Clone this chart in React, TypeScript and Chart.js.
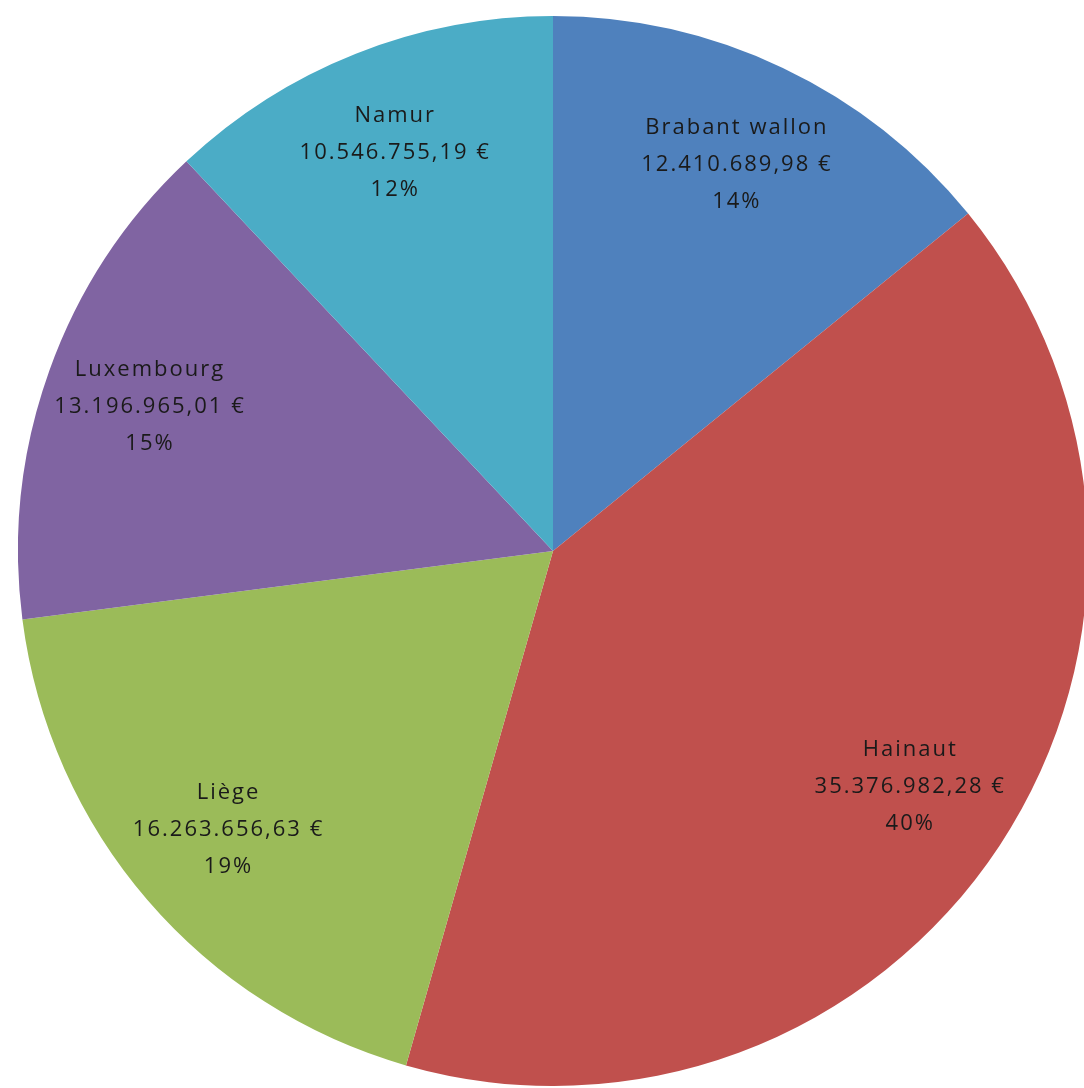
import React, { useEffect, useRef } from "react";
import { Chart, registerables } from "chart.js";

Chart.register(...registerables);

const categories = ["Brabant wallon", "Hainaut", "Liège", "Luxembourg", "Namur"];
const amounts = [12410689.98, 35376982.28, 16263656.63, 13196965.01, 10546755.19];
const colors = ["#4f81bd", "#c0504d", "#9bbb59", "#8064a2", "#4bacc6"];

function formatEuro(v: number): string {
  const fixed = v.toFixed(2);
  const [intPart, dec] = fixed.split(".");
  const grouped = intPart.replace(/\B(?=(\d{3})+(?!\d))/g, ".");
  return grouped + "," + dec + " €";
}

const labelPlugin = {
  id: "sliceLabels",
  afterDatasetsDraw(chart: any) {
    const ctx = chart.ctx;
    const meta = chart.getDatasetMeta(0);
    const data = chart.data.datasets[0].data as number[];
    const total = data.reduce((a, b) => a + b, 0);
    ctx.save();
    ctx.font = "22px 'Open Sans', sans-serif";
    try {
      (ctx as any).letterSpacing = "2px";
    } catch (e) {}
    ctx.fillStyle = "#1a1a1a";
    ctx.textAlign = "center";
    ctx.textBaseline = "middle";
    meta.data.forEach((arc: any, i: number) => {
      const { x, y, startAngle, endAngle, outerRadius } = arc.getProps(
        ["x", "y", "startAngle", "endAngle", "outerRadius"],
        true
      );
      const mid = (startAngle + endAngle) / 2;
      const r = outerRadius * 0.8;
      const cx = x + Math.cos(mid) * r;
      const cy = y + Math.sin(mid) * r;
      const lines = [
        chart.data.labels[i],
        formatEuro(data[i]),
        Math.round((data[i] / total) * 100) + "%",
      ];
      const lh = 37;
      lines.forEach((t: string, k: number) => {
        ctx.fillText(t, cx, cy + (k - 1) * lh);
      });
    });
    ctx.restore();
  },
};

export default function App() {
  const ref = useRef<HTMLCanvasElement | null>(null);
  useEffect(() => {
    document.body.style.margin = "0";
    document.body.style.overflow = "hidden";
    const chart = new Chart(ref.current as HTMLCanvasElement, {
      type: "pie",
      data: {
        labels: categories,
        datasets: [
          {
            data: amounts,
            backgroundColor: colors,
            borderWidth: 0,
          },
        ],
      },
      options: {
        animation: false,
        responsive: false,
        maintainAspectRatio: false,
        layout: { padding: 0 },
        plugins: {
          legend: { display: false },
          tooltip: { enabled: false },
        },
      },
      plugins: [labelPlugin],
    });
    return () => chart.destroy();
  }, []);
  return (
    <div
      style={{
        position: "fixed",
        left: 0,
        top: 0,
        width: 1084,
        height: 1088,
        overflow: "hidden",
        background: "#ffffff",
      }}
    >
      <canvas
        ref={ref}
        width={1070}
        height={1070}
        style={{ position: "absolute", left: 18, top: 16, width: 1070, height: 1070 }}
      />
    </div>
  );
}
